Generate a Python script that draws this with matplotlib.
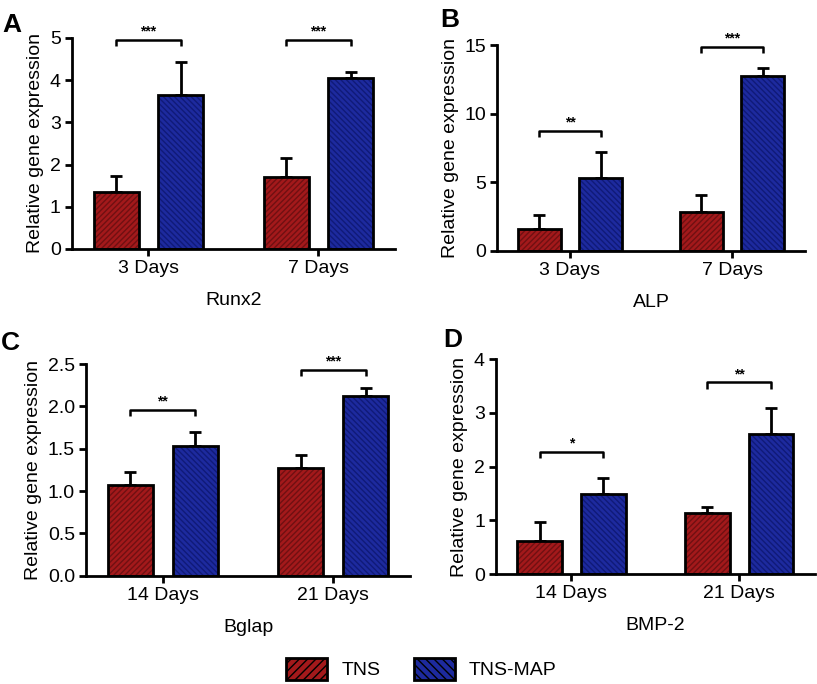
import numpy as np
import matplotlib
matplotlib.use("Agg")
import matplotlib.pyplot as plt
from matplotlib.patches import Patch

plt.rcParams["font.family"] = ["Liberation Sans", "DejaVu Sans"]
plt.rcParams["hatch.linewidth"] = 1.0
fontSize = 14

# data
days_ab = ["3 Days", "7 Days"]
days_cd = ["14 Days", "21 Days"]
genes = ["Runx2", "ALP", "Bglap", "BMP-2"]
letters = ["A", "B", "C", "D"]

tns_mean = [[1.36, 1.71], [1.60, 2.82], [1.07, 1.27], [0.61, 1.14]]
tns_top = [[1.73, 2.15], [2.60, 4.06], [1.22, 1.42], [0.96, 1.24]]
map_mean = [[3.65, 4.04], [5.28, 12.74], [1.53, 2.125], [1.49, 2.61]]
map_top = [[4.42, 4.20], [7.22, 13.35], [1.70, 2.22], [1.78, 3.10]]

ymax = [5, 15, 2.5, 4]
yticks = [[0, 1, 2, 3, 4, 5], [0, 5, 10, 15],
          [0.0, 0.5, 1.0, 1.5, 2.0, 2.5], [0, 1, 2, 3, 4]]
ytick_fmt = ["{:.0f}", "{:.0f}", "{:.1f}", "{:.0f}"]

# significance brackets: y of bracket per group, stars per group
bracket_y = [[4.95, 4.95], [8.75, 14.88], [1.96, 2.43], [2.28, 3.57]]
stars = [["***", "***"], ["**", "***"], ["**", "***"], ["*", "**"]]

# axes positions (fig fraction)
pos = [[0.088, 0.636, 0.3955, 0.3085],
       [0.6083, 0.6335, 0.377, 0.3007],
       [0.1053, 0.1583, 0.3965, 0.3095],
       [0.6071, 0.1608, 0.390, 0.3139]]
letter_pos = [(0.003, 0.953), (0.5386, 0.9605), (0.001, 0.488), (0.542, 0.4927)]

red_face, red_hatch = "#a3191b", "#701012"
blue_face, blue_hatch = "#1d2a9e", "#101a78"
width = 0.265
off = 0.19

fig = plt.figure(figsize=(8.17, 6.84), dpi=100)

for k in range(4):
    ax = fig.add_axes(pos[k])
    x = np.arange(2)
    xr = x - off
    xb = x + off
    # filled hatched bars (hatch takes edgecolor), then outline on top
    ax.bar(xr, tns_mean[k], width, color=red_face, edgecolor=red_hatch,
           hatch="//////", linewidth=0, zorder=2)
    ax.bar(xb, map_mean[k], width, color=blue_face, edgecolor=blue_hatch,
           hatch="\\\\\\\\\\\\", linewidth=0, zorder=2)
    ax.bar(xr, tns_mean[k], width, fill=False, edgecolor="black", linewidth=2, zorder=3)
    ax.bar(xb, map_mean[k], width, fill=False, edgecolor="black", linewidth=2, zorder=3)

    # upper error bars only
    m = np.array(tns_mean[k]); t = np.array(tns_top[k])
    ax.errorbar(xr, m, yerr=[np.zeros(2), t - m], fmt="none", ecolor="black",
                elinewidth=2, capsize=4, capthick=2, zorder=1, clip_on=False)
    m = np.array(map_mean[k]); t = np.array(map_top[k])
    ax.errorbar(xb, m, yerr=[np.zeros(2), t - m], fmt="none", ecolor="black",
                elinewidth=2, capsize=4, capthick=2, zorder=1, clip_on=False)

    # brackets
    leg = 0.03 * ymax[k]
    for g in range(2):
        by = bracket_y[k][g]
        ax.plot([xr[g], xr[g], xb[g], xb[g]], [by - leg, by, by, by - leg],
                color="black", linewidth=1.8, clip_on=False, solid_capstyle="butt")
        ax.annotate(stars[k][g], xy=(x[g], by), xytext=(0, 1),
                    textcoords="offset points", ha="center", va="bottom",
                    fontsize=10, fontweight="bold", annotation_clip=False)

    ax.set_xlim(-0.45, 1.45)
    ax.set_ylim(0, ymax[k])
    ax.set_xticks(x)
    ax.set_xticklabels(days_ab if k < 2 else days_cd, fontsize=fontSize)
    ax.set_yticks(yticks[k])
    ax.set_yticklabels([ytick_fmt[k].format(v) for v in yticks[k]], fontsize=fontSize)
    ax.spines["top"].set_visible(False)
    ax.spines["right"].set_visible(False)
    ax.spines["left"].set_linewidth(2)
    ax.spines["bottom"].set_linewidth(2)
    ax.tick_params(width=2, length=5, pad=3)
    ax.set_ylabel("Relative gene expression", fontsize=fontSize, labelpad=4)
    ax.set_xlabel(genes[k], fontsize=fontSize, labelpad=11)

    fig.text(letter_pos[k][0], letter_pos[k][1], letters[k], fontsize=19,
             fontweight="bold", va="baseline", ha="left")

handles = [Patch(facecolor=red_face, edgecolor="black", hatch="////", linewidth=2),
           Patch(facecolor=blue_face, edgecolor="black", hatch="\\\\\\\\", linewidth=2)]
fig.legend(handles, ["TNS", "TNS-MAP"], loc="center", bbox_to_anchor=(0.516, 0.022),
           ncol=2, frameon=False, fontsize=fontSize, handlelength=2.1,
           handleheight=1.3, columnspacing=1.75, handletextpad=0.72)

plt.savefig("out.png", dpi=100)
